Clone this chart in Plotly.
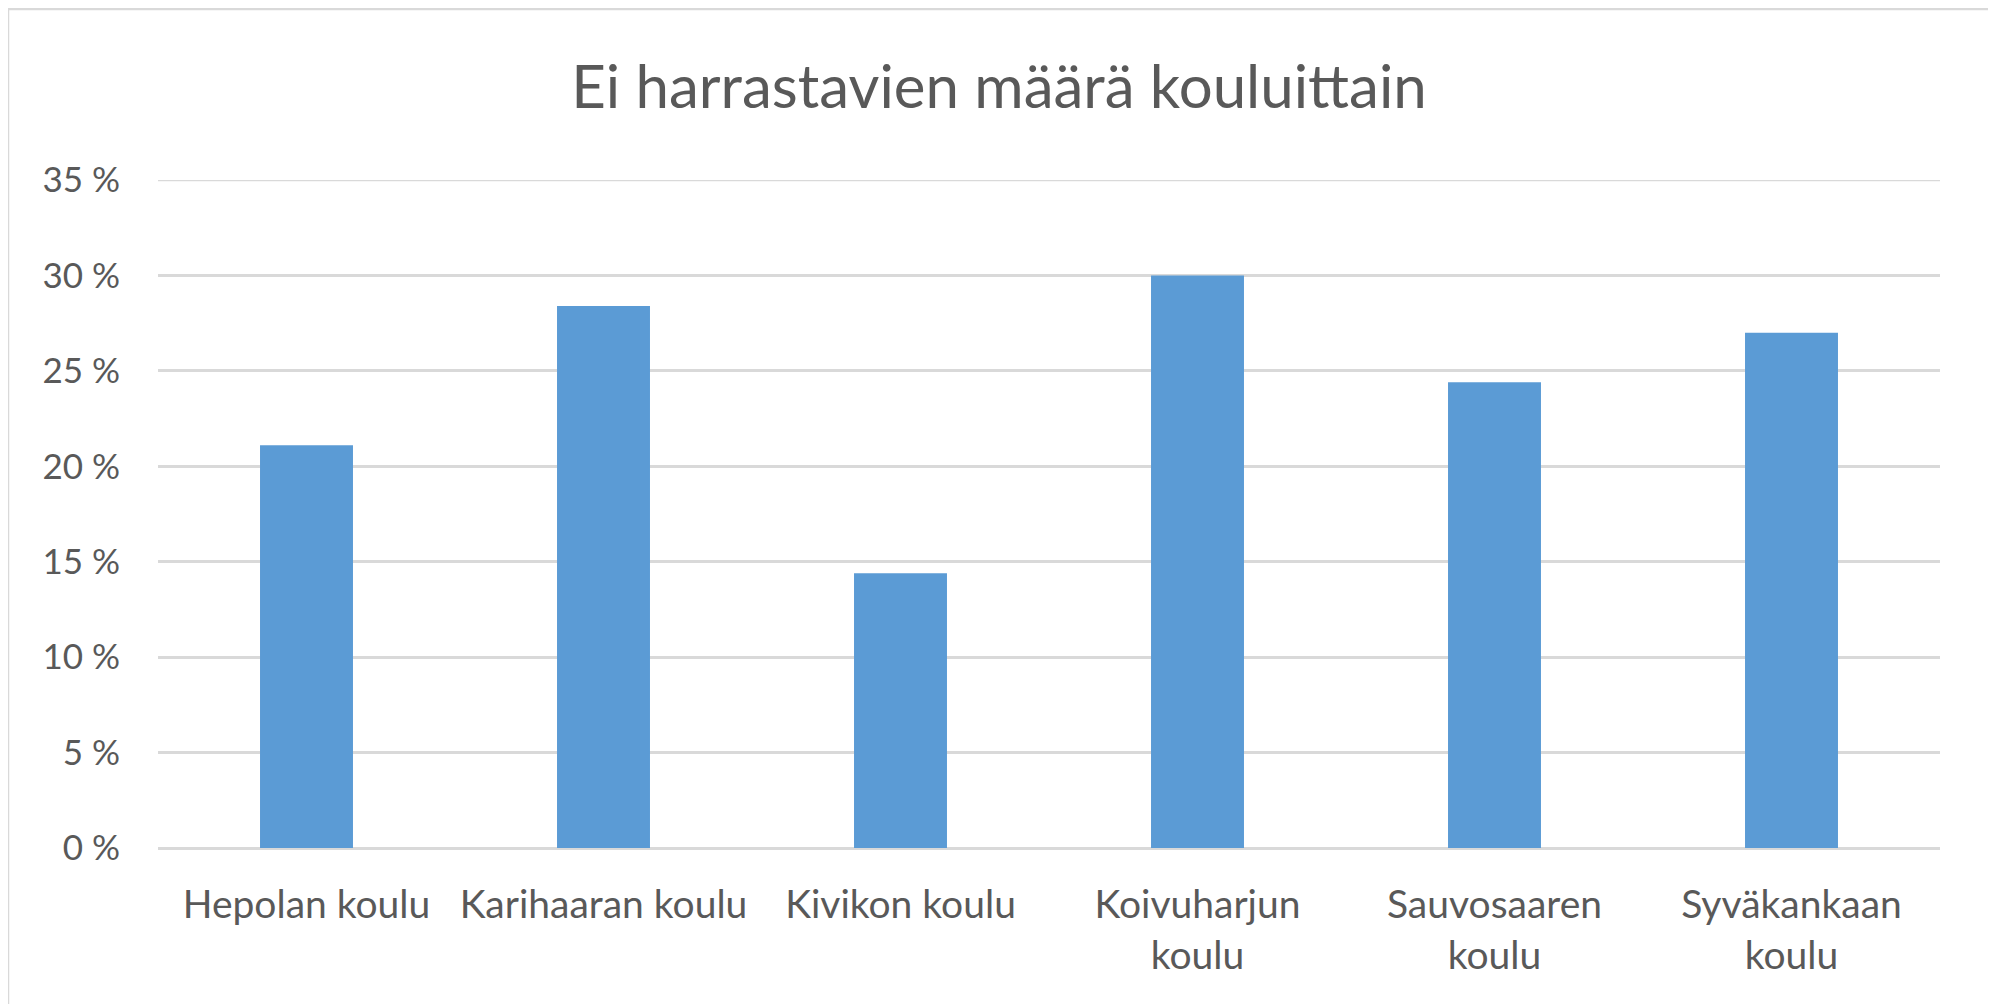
import plotly.graph_objects as go

schools = ["Hepolan koulu", "Karihaaran koulu", "Kivikon koulu",
           "Koivuharjun koulu", "Sauvosaaren koulu", "Syväkankaan koulu"]
tick_labels = ["Hepolan koulu", "Karihaaran koulu", "Kivikon koulu",
               "Koivuharjun<br>koulu", "Sauvosaaren<br>koulu", "Syväkankaan<br>koulu"]
share_pct = [21.1, 28.4, 14.4, 30.0, 24.4, 27.0]
y_ticks = [0, 5, 10, 15, 20, 25, 30, 35]

W, H = 1996, 1004
OFF = 8  # page body margin
L, R, T, B = 158 - OFF, 56 + OFF, 180 - OFF, 156 + OFF
pw, ph = W - L - R, H - T - B

def px_x(p):
    return (p - OFF - L) / pw

def px_y(p):
    return (H - B - (p - OFF)) / ph

FONT = "Lato"
TXT = "#595959"
GRID = "#d9d9d9"

fig = go.Figure(go.Bar(
    x=schools, y=share_pct, marker=dict(color="#5b9bd5", line=dict(width=0)),
))

fig.update_layout(
    width=W, height=H,
    margin=dict(l=L, r=R, t=T, b=B),
    paper_bgcolor="white", plot_bgcolor="white",
    bargap=0.687,
    showlegend=False,
    title=dict(text="Ei harrastavien määrä kouluittain", x=(999 - OFF) / W, xref="container",
               xanchor="center", y=1 - (87 - OFF) / H, yanchor="middle",
               font=dict(family=FONT, size=60, color=TXT)),
    font=dict(family=FONT, color=TXT),
    xaxis=dict(tickmode="array", tickvals=schools, ticktext=tick_labels,
               tickfont=dict(size=39, color=TXT), showgrid=False,
               showline=False, zeroline=False, ticks="outside", ticklen=22,
               tickcolor="rgba(0,0,0,0)"),
    yaxis=dict(range=[0, 35], tickmode="array", tickvals=y_ticks,
               ticktext=[f"{v} %" for v in y_ticks],
               tickfont=dict(size=35, color=TXT), showgrid=True, gridcolor=GRID,
               gridwidth=2.5, zeroline=True, zerolinecolor=GRID, zerolinewidth=2.5,
               showline=False, ticks="outside", ticklen=30,
               tickcolor="rgba(0,0,0,0)"),
    shapes=[
        dict(type="rect", xref="paper", yref="paper",
             x0=px_x(8), x1=px_x(1992), y0=px_y(1030), y1=px_y(9),
             line=dict(color=GRID, width=2.5), fillcolor="rgba(0,0,0,0)",
             layer="below"),
        dict(type="line", xref="paper", yref="y", x0=0, x1=1,
             y0=y_ticks[-1], y1=y_ticks[-1],
             line=dict(color=GRID, width=2.5), layer="below"),
    ],
)

fig.write_html("out.html")
